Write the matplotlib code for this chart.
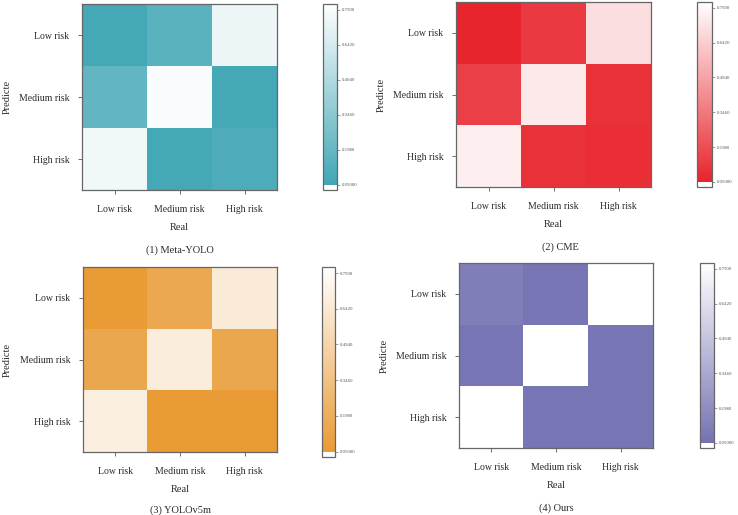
import numpy as np
import matplotlib
matplotlib.use("Agg")
import matplotlib.pyplot as plt
from matplotlib.colors import LinearSegmentedColormap

plt.rcParams["font.family"] = ["Liberation Serif", "DejaVu Serif"]

W, H = 738, 515

CLASSES = ["Low risk", "Medium risk", "High risk"]
TITLES = ["(1) Meta-YOLO", "(2) CME", "(3) YOLOv5m", "(4) Ours"]
CBAR_TICKS = [0.05, 0.198, 0.346, 0.494, 0.642, 0.79]
CBAR_LABELS = ["0.05000", "0.1980", "0.3460", "0.4940", "0.6420", "0.7900"]

# rows = Predicte, cols = Real
meta_yolo = [[0.07, 0.16, 0.74],
             [0.19, 0.79, 0.07],
             [0.76, 0.07, 0.11]]
cme = [[0.055, 0.13, 0.70],
       [0.15, 0.74, 0.10],
       [0.76, 0.10, 0.09]]
yolov5m = [[0.06, 0.16, 0.67],
           [0.15, 0.68, 0.15],
           [0.70, 0.06, 0.06]]
ours = [[0.12, 0.07, 0.84],
        [0.07, 0.84, 0.07],
        [0.84, 0.07, 0.07]]

MATS = [meta_yolo, cme, yolov5m, ours]
DARK = ["#40a6b5", "#e8232b", "#e99a34", "#7472b2"]

VMIN, VMAX = 0.028, 0.815

# pixel boxes: heatmap (x0, y0, x1, y1), colorbar (x0, y0, x1, y1)
HEAT = [(82, 4, 277, 190), (456, 2, 651, 187), (83, 267, 277, 452), (459, 263, 653, 448)]
CBOX = [(323, 4, 337, 190), (697, 2, 712, 187), (322, 267, 335, 457), (700, 263, 714, 448)]
TITLE_POS = [(180, 250), (560, 247), (180, 510), (556, 508)]
YLAB_X = [3, 377, 3, 380]


def rect(b):
    x0, y0, x1, y1 = b
    return [x0 / W, 1 - y1 / H, (x1 - x0) / W, (y1 - y0) / H]


def make_cmap(dark):
    f = (0.05 - VMIN) / (VMAX - VMIN)
    return LinearSegmentedColormap.from_list(
        "c", [(0.0, "white"), (f - 0.001, "white"), (f, dark), (1.0, "white")], N=1024)


fig = plt.figure(figsize=(W / 100, H / 100), dpi=100)
spine_c = "#666666"
txt_c = "#2a2a2a"

for i in range(4):
    cmap = make_cmap(DARK[i])
    ax = fig.add_axes(rect(HEAT[i]))
    im = ax.imshow(np.array(MATS[i]), cmap=cmap, vmin=VMIN, vmax=VMAX,
                   aspect="auto", interpolation="nearest")
    ax.set_xticks(range(3))
    ax.set_yticks(range(3))
    ax.set_xticklabels(CLASSES, fontsize=7, color=txt_c)
    ax.set_yticklabels(CLASSES, fontsize=7, color=txt_c)
    ax.tick_params(axis="x", length=3, width=0.6, color="#555555", pad=8)
    ax.tick_params(axis="y", length=3, width=0.6, color="#555555", pad=6)
    ax.set_xlabel("Real", fontsize=7.5, color=txt_c, labelpad=6)
    for s in ax.spines.values():
        s.set_color(spine_c)
        s.set_linewidth(0.9)
    hy = (HEAT[i][1] + HEAT[i][3]) / 2
    fig.text(YLAB_X[i] / W, 1 - hy / H, "Predicte", rotation=90, fontsize=7.5,
             color=txt_c, ha="left", va="center")
    fig.text(TITLE_POS[i][0] / W, 1 - TITLE_POS[i][1] / H, TITLES[i],
             fontsize=7.5, color=txt_c, ha="center", va="center")

    cax = fig.add_axes(rect(CBOX[i]))
    cb = fig.colorbar(im, cax=cax)
    cb.set_ticks(CBAR_TICKS)
    cb.set_ticklabels(CBAR_LABELS)
    cb.ax.tick_params(labelsize=3.5, length=2, width=0.5, color="#777777",
                      labelcolor="#555555", pad=1.5)
    cb.outline.set_edgecolor(spine_c)
    cb.outline.set_linewidth(0.9)

fig.savefig("out.png", dpi=100)
